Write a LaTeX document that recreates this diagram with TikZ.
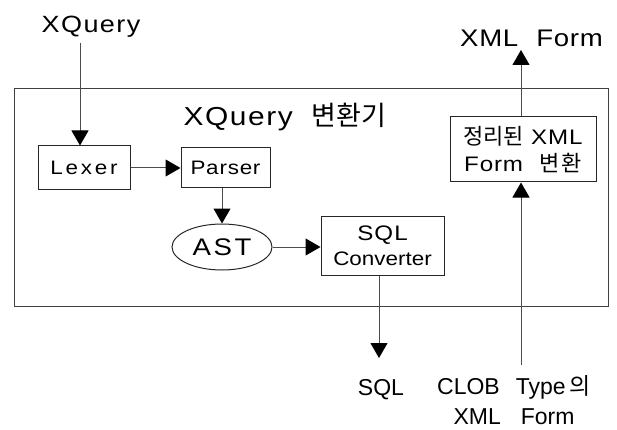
\documentclass[tikz,border=0pt]{standalone}
\usepackage{fontspec}
\setmainfont{Liberation Sans}
\newfontfamily\gw{Liberation Sans}[FakeStretch=1.15]
\newfontfamily\kr{Noto Sans CJK KR}
\usetikzlibrary{shapes.geometric,arrows.meta}
\newcommand{\fs}[2]{\fontsize{#1}{#2}\selectfont}
\newcommand{\ls}[1]{\addfontfeatures{LetterSpace=#1}}
\begin{document}
\begin{tikzpicture}[x=1pt,y=-1pt,
  conn/.style={draw=black!70, line width=1pt},
  arr/.style={conn, -{Triangle[width=17pt,length=15pt,color=black,fill=black]}},
  box/.style={draw=black!85, line width=1pt, inner sep=0pt},
  lbl/.style={inner sep=0pt, anchor=base},
]
\useasboundingbox (0,0) rectangle (617,430);
% outside labels
\node[lbl, font=\gw\fs{23.5}{28}\ls{6}] (xq) at (91,33) {XQuery};
\node[lbl, font=\gw\fs{24}{28}\ls{3}] (xmlout) at (531.5,46.5) {XML\hspace{18pt}Form};
% container
\node[box, draw=black!75, minimum width=594pt, minimum height=217pt] (outer) at (311,197.5) {};
\node[lbl, font=\gw\fs{26}{30}\ls{6}] (title) at (285,126) {XQuery\hspace{19pt}{\kr\fs{27}{30}변환기}};
% inner nodes
\node[box, minimum width=92pt, minimum height=44pt, font=\gw\fs{19.5}{22}\ls{14}] (lexer) at (84,168) {Lexer};
\node[box, minimum width=89pt, minimum height=40pt, font=\gw\fs{19.5}{22}\ls{4}] (parser) at (225.5,168) {Parser};
\node[ellipse, box, minimum width=100pt, minimum height=46pt, font=\gw\fs{24}{26}\ls{11}] (ast) at (222,247) {AST};
\node[box, minimum width=123pt, minimum height=59pt, align=center, font=\gw\fs{19.5}{25}] (conv) at (382.5,245.5) {{\ls{5}\fs{21}{25}SQL}\\Converter};
\node[box, minimum width=146pt, minimum height=65pt, align=center, font=\gw\fs{21}{27}\ls{4}] (fbox) at (523,149.5) {{\kr\fs{22}{27}정리된}\hspace{7pt}XML\\Form\hspace{16pt}{\kr\fs{22}{27}\ls{10}변환}};
% bottom labels
\node[lbl, font=\fs{23}{30}] (sql) at (381,395) {SQL};
\node[lbl, align=center, font=\fs{23}{30}] (clob) at (514,424) {CLOB\hspace{16pt}Type\hspace{4pt}{\kr\fs{23}{30}의}\\XML\hspace{20pt}Form};
% free ends
\coordinate (xqend) at (80,43);
\coordinate (clobtop) at (521,365);
\coordinate (sqltop) at (379,358);
\coordinate (xmlbot) at (521,50);
% connectors
\draw[arr] (xqend) -- (lexer.north -| xqend);
\draw[arr] (lexer.east) -- (parser.west);
\draw[arr] (parser.south -| ast.north) -- (ast.north);
\draw[arr] (ast.east) -- (conv.west |- ast.east);
\draw[arr] (conv.south -| sqltop) -- (sqltop);
\draw[arr] (clobtop) -- (fbox.south -| clobtop);
\draw[arr] (fbox.north -| xmlbot) -- (xmlbot);
\end{tikzpicture}
\end{document}
